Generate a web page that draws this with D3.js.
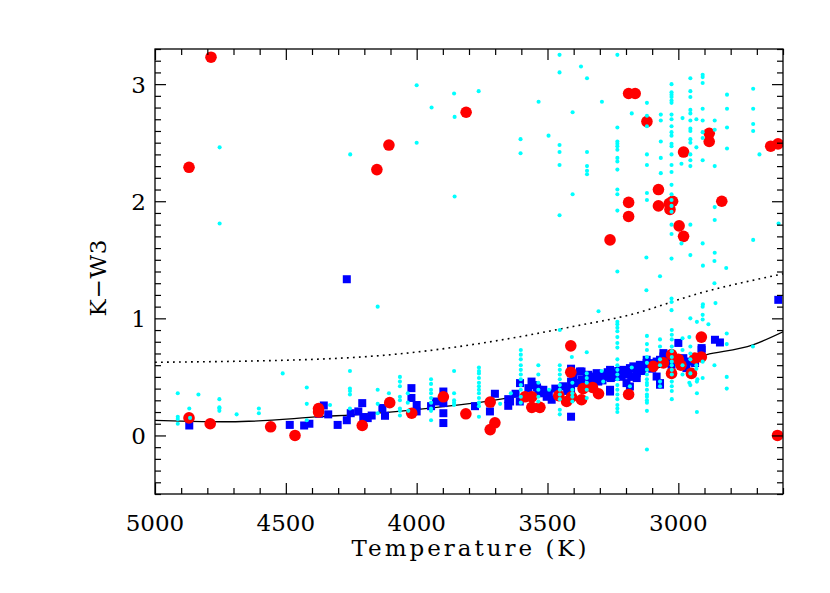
<!DOCTYPE html>
<html>
<head>
<meta charset="utf-8">
<script src="https://cdn.jsdelivr.net/npm/d3@7"></script>
<style>
  html, body { margin: 0; padding: 0; background: #ffffff; }
  svg { display: block; }
</style>
</head>
<body>
<div id="chart"></div>
<script>
// ---------------- DATA ----------------
const xDomain = [5000, 2600];
const yDomain = [-0.5, 3.3];
const xMajorTicks = [5000, 4500, 4000, 3500, 3000];
const yMajorTicks = [0, 1, 2, 3];
const xLabel = "Temperature (K)";
const yLabel = "K\u2212W3";

// solid model line
const modelT = [5000, 4866, 4713, 4369, 4102, 3899, 3720, 3408, 3172, 2894, 2715, 2600];
const modelY = [0.128, 0.121, 0.117, 0.160, 0.200, 0.247, 0.296, 0.418, 0.525, 0.689, 0.774, 0.885];
// dotted threshold line
const threshT = [5000, 4369, 4064, 3735, 3403, 3185, 2918, 2600];
const threshY = [0.625, 0.652, 0.697, 0.794, 0.930, 1.030, 1.215, 1.380];

// cyan small dots [T, K-W3]
const cyanPoints = [
 [4753,2.46],[4753,1.81],[4254,2.40],
 [4000,2.99],[4000,2.50],[3943,2.80],[3857,2.92],[3855,2.72],[3763,2.94],[3855,2.04],
 [3603,2.53],[3603,2.41],[3534,2.85],[3496,2.56],
 [3454,3.25],[3454,3.10],[3454,2.48],[3454,2.42],[3454,2.31],[3454,1.88],
 [3404,2.76],[3404,2.06],[3372,3.15],[3349,3.05],
 [3349,2.42],[3349,2.30],[3349,2.26],[3349,2.23],[3292,2.85],
 [3233,3.25],[3233,2.63],[3233,2.51],[3233,2.49],[3233,2.47],[3233,2.44],[3233,2.37],[3233,2.34],[3233,2.27],[3233,2.10],[3233,2.06],[3233,1.92],
 [3178,2.75],
 [3120,2.84],[3120,2.73],[3120,2.64],[3120,2.40],[3120,2.31],[3120,2.07],[3120,2.01],
 [3067,2.74],[3067,2.69],[3067,2.51],[3067,2.37],[3067,2.24],
 [3026,3.00],[3026,2.93],[3026,2.91],[3026,2.89],[3026,2.86],[3026,2.84],[3026,2.74],[3026,2.70],[3026,2.64],[3026,2.59],[3026,2.56],[3026,2.49],[3026,2.47],[3026,2.40],[3026,2.31],[3026,2.25],[3026,2.14],[3026,2.06],[3026,2.01],[3026,1.96],[3026,1.91],[3026,1.80],[3026,1.72],[3026,1.51],
 [2984,2.71],[2988,2.32],[2988,1.64],
 [2954,3.05],[2954,2.94],[2954,2.89],[2954,2.78],[2954,2.75],[2954,2.69],[2954,2.62],[2954,2.60],[2954,2.53],[2954,2.50],[2954,2.40],[2954,2.35],[2954,2.30],[2954,1.80],[2954,1.54],
 [2931,2.70],[2931,2.46],
 [2907,3.08],[2907,3.06],[2907,3.01],[2907,2.79],[2907,2.69],[2907,2.59],[2907,2.54],[2907,2.35],[2907,1.64],
 [2861,2.69],[2861,2.61],[2861,2.30],[2861,1.95],[2861,1.84],[2861,1.56],
 [2814,2.91],[2814,2.79],[2814,2.63],[2814,2.45],
 [2714,2.96],[2714,2.79],[2714,2.66],[2714,2.60],[2714,1.67],
 [2690,2.40],[2617,1.81],
 [3070,1.36],[3122,1.24],[3122,1.52],[2906,1.45],[2862,1.49],[2862,1.30],[2817,1.43],[3233,1.40],
 [3026,1.17],[3026,1.14],[3026,1.07],[2906,1.12],[2858,1.13],[3305,1.06],[2907,1.10],[2907,1.03],[2907,0.99],[2954,1.00],[2929,0.97],[2885,0.95],
 [3233,0.97],[3233,0.95],[3233,0.92],[3233,0.89],[3233,0.84],[3233,0.79],[3233,0.75],
 [3453,0.90],
 [3120,0.85],[3120,0.78],[3120,0.73],[3120,0.67],[3120,0.62],[3120,0.56],[3120,0.52],[3120,0.48],[3120,0.45],[3120,0.43],[3120,0.39],[3120,0.35],[3120,0.33],[3120,0.30],[3120,0.28],[3120,0.21],[3120,-0.12],
 [3070,0.82],[3070,0.76],[3070,0.65],[3070,0.60],[3070,0.46],[3070,0.42],
 [3025,0.90],[3025,0.86],[3025,0.82],[3025,0.76],[3025,0.72],[3025,0.67],[3025,0.63],[3025,0.60],[3025,0.56],[3025,0.52],[3025,0.46],[3025,0.42],[3025,0.38],[3025,0.31],
 [2984,0.83],[2984,0.73],[2984,0.60],[2984,0.52],
 [2954,0.76],[2954,0.70],[2954,0.65],[2954,0.53],[2954,0.43],
 [2929,0.46],[2929,0.36],[2929,0.20],[2931,0.60],[2931,0.57],[2927,0.48],
 [2907,0.63],[2907,0.49],[2958,0.84],[2958,0.45],
 [2862,0.60],
 [2815,0.87],[2815,0.78],[2815,0.50],[2815,0.40],
 [2715,0.76],
 [3233,0.65],[3233,0.60],[3233,0.56],[3233,0.52],[3233,0.48],[3233,0.43],[3233,0.39],[3233,0.35],[3233,0.31],[3233,0.26],[3233,0.23],[3233,0.20],
 [3178,0.58],[3185,0.42],[3293,0.55],[3287,0.46],[3350,0.71],[3407,0.67],
 [3453,0.60],[3453,0.56],[3453,0.52],[3453,0.48],[3453,0.43],[3453,0.39],[3453,0.35],[3453,0.31],[3453,0.22],[3453,0.18],
 [3405,0.45],[3405,0.39],[3405,0.36],[3405,0.33],[3405,0.29],
 [3350,0.53],[3350,0.49],[3350,0.45],[3350,0.39],[3350,0.32],
 [3494,0.39],
 [3602,0.73],[3602,0.69],[3602,0.65],[3602,0.60],[3602,0.56],[3602,0.52],[3602,0.48],[3602,0.43],[3602,0.39],[3602,0.33],[3602,0.28],
 [3535,0.60],[3535,0.52],[3535,0.45],[3535,0.39],[3535,0.33],[3535,0.29],
 [3640,0.36],[3681,0.27],
 [3762,0.58],[3762,0.55],[3762,0.53],[3762,0.49],[3762,0.45],[3762,0.42],[3762,0.39],[3762,0.36],[3762,0.32],[3762,0.28],[3762,0.25],[3762,0.16],
 [3857,0.55],[3857,0.36],[3857,0.30],[3857,0.28],[3857,0.26],
 [3945,0.48],[3945,0.44],[3945,0.39],[3945,0.36],[3945,0.32],[3945,0.28],[3945,0.23],[3945,0.21],[3945,0.13],
 [4064,0.50],[4064,0.46],[4064,0.42],[4064,0.33],[4064,0.30],[4064,0.23],[4064,0.21],[4064,0.17],
 [4034,0.36],[4034,0.28],[4032,0.21],[4106,0.36],
 [4149,0.39],[4149,0.27],[4149,0.19],[4149,1.10],
 [4255,0.55],[4255,0.40],[4255,0.38],[4255,0.35],[4255,0.23],
 [4331,0.26],
 [4420,0.41],[4420,0.27],[4420,0.13],
 [4512,0.53],[4603,0.23],[4603,0.19],[4688,0.18],
 [4754,0.31],[4754,0.24],[4754,0.23],[4754,0.21],
 [4834,0.35],[4869,0.23],[4866,0.15],
 [4913,0.36],[4913,0.16],[4913,0.14],[4913,0.10]
];

// blue squares [T, K-W3]
const bluePoints = [
 [4869,0.085],[4485,0.09],[4430,0.085],[4410,0.10],[4355,0.256],[4338,0.18],[4373,0.185],[4302,0.09],[4267,0.13],[4252,0.19],[4223,0.205],[4208,0.276],[4204,0.157],[4187,0.148],[4172,0.17],[4131,0.234],[4121,0.168],[4267,1.334],
 [4020,0.404],[4020,0.32],[4000,0.26],[4000,0.205],[3898,0.375],[3898,0.276],[3898,0.19],[3898,0.106],[3945,0.25],[3926,0.29],[3777,0.25],
 [3720,0.205],[3701,0.356],[3650,0.31],[3650,0.253],[3622,0.356],[3606,0.29],[3643,0.29],[3605,0.447],
 [3573,0.404],[3561,0.46],[3548,0.43],[3535,0.39],[3516,0.39],[3503,0.33],[3484,0.305],[3459,0.36],[3452,0.33],
 [3540,0.41],[3525,0.36],[3495,0.35],[3470,0.40],[3440,0.42],[3425,0.38],
 [3410,0.57],[3410,0.46],[3410,0.40],[3410,0.16],[3395,0.447],[3370,0.546],[3370,0.475],[3357,0.418],
 [3401,0.503],[3376,0.546],[3376,0.447],[3350,0.503],[3338,0.447],[3318,0.49],[3299,0.518],[3274,0.503],[3248,0.532],[3223,0.503],[3191,0.546],[3261,0.39],
 [3344,0.518],[3331,0.503],[3312,0.532],[3293,0.518],[3280,0.503],[3261,0.56],[3258,0.49],[3261,0.375],[3306,0.46],
 [3290,0.47],[3270,0.54],[3240,0.50],[3230,0.55],[3205,0.52],[3180,0.50],[3165,0.57],[3140,0.55],[3115,0.59],[3100,0.57],
 [3217,0.503],[3210,0.56],[3198,0.532],[3185,0.575],[3172,0.59],[3159,0.56],[3147,0.603],[3134,0.575],[3121,0.646],[3108,0.603],[3096,0.618],[3083,0.631],[3070,0.646],[3057,0.674],
 [3198,0.447],[3185,0.418],[3159,0.49],[3070,0.433],[3159,0.532],[3147,0.56],[3121,0.618],[3083,0.503],[3070,0.447],[3057,0.703],[3045,0.674],
 [3045,0.618],[3026,0.603],[3000,0.79],[2994,0.646],[2981,0.66],[2975,0.618],[2969,0.575],[2962,0.631],[2936,0.618],[2911,0.746],[2911,0.731],[2860,0.817],[2841,0.794],[2618,1.158]
];

// red circles [T, K-W3]
const redPoints = [
 [4786,3.23],[4870,2.29],[4106,2.48],[4152,2.27],[3811,2.76],[3190,2.92],[3165,2.92],[3120,2.68],[2980,2.42],[2882,2.58],[2882,2.51],[2647,2.47],[2619,2.49],
 [3076,2.10],[3190,1.99],[3190,1.87],[3076,1.96],[3035,1.98],[3032,1.93],[3022,2.00],[2997,1.79],[2980,1.70],[2834,2.00],[3261,1.67],
 [3411,0.765],[3411,0.54],[3898,0.33],[4019,0.19],[3812,0.185],[3719,0.285],[3701,0.108],[3719,0.05],
 [3586,0.33],[3560,0.33],[3560,0.24],[3529,0.24],[3457,0.34],[3427,0.29],[3408,0.33],[3370,0.305],[3364,0.40],[3328,0.41],[3305,0.356],[3190,0.35],
 [3096,0.59],[3057,0.62],[3026,0.69],[3026,0.53],[3000,0.65],[2990,0.60],[2950,0.53],[2937,0.66],[2912,0.84],[2912,0.67],[2621,0.0],
 [4870,0.15],[4789,0.10],[4558,0.074],[4465,0.0],[4375,0.23],[4375,0.20],[4208,0.085],[4103,0.28]
];

// ---------------- LAYOUT ----------------
const W = 830, H = 593;
const plot = { left: 155, right: 783, top: 49, bottom: 494 };
const FONT = "'DejaVu Serif', 'Liberation Serif', serif";

const svg = d3.select("#chart").append("svg")
  .attr("width", W).attr("height", H)
  .attr("viewBox", `0 0 ${W} ${H}`);
svg.append("rect").attr("width", W).attr("height", H).attr("fill", "#fff");

const x = d3.scaleLinear().domain(xDomain).range([plot.left, plot.right]);
const y = d3.scaleLinear().domain(yDomain).range([plot.bottom, plot.top]);

svg.append("defs").append("clipPath").attr("id", "clip")
  .append("rect").attr("x", plot.left).attr("y", plot.top)
  .attr("width", plot.right - plot.left).attr("height", plot.bottom - plot.top);

const g = svg.append("g").attr("clip-path", "url(#clip)");

// lines
const line = d3.line().x(d => x(d[0])).y(d => y(d[1])).curve(d3.curveMonotoneX);
g.append("path")
  .datum(threshT.map((t, i) => [t, threshY[i]]))
  .attr("d", line).attr("fill", "none").attr("stroke", "#000")
  .attr("stroke-width", 1.6).attr("stroke-dasharray", "1.8,4.2");
g.append("path")
  .datum(modelT.map((t, i) => [t, modelY[i]]))
  .attr("d", line).attr("fill", "none").attr("stroke", "#000")
  .attr("stroke-width", 1.3);

// blue squares
const sq = 8;
g.selectAll("rect.blue").data(bluePoints).join("rect")
  .attr("class", "blue")
  .attr("x", d => x(d[0]) - sq / 2).attr("y", d => y(d[1]) - sq / 2)
  .attr("width", sq).attr("height", sq).attr("fill", "#0000ff");

// red circles
g.selectAll("circle.red").data(redPoints).join("circle")
  .attr("class", "red")
  .attr("cx", d => x(d[0])).attr("cy", d => y(d[1])).attr("r", 5.8)
  .attr("fill", "#ff0000");

// cyan dots
g.selectAll("circle.cyan").data(cyanPoints).join("circle")
  .attr("class", "cyan")
  .attr("cx", d => x(d[0])).attr("cy", d => y(d[1])).attr("r", 2.05)
  .attr("fill", "#00ffff");

// ---------------- AXES ----------------
const axesG = svg.append("g");
const xMinor = d3.range(xDomain[1], xDomain[0] + 1, 100).filter(v => !xMajorTicks.includes(v));
const yMinor = d3.range(-5, 34).map(v => v / 10).filter(v => !yMajorTicks.includes(v));
const MAJ = 11, MIN = 6;

const axBottom = d3.axisBottom(x).tickValues(xMajorTicks).tickSize(-MAJ).tickFormat("");
const axTop = d3.axisTop(x).tickValues(xMajorTicks).tickSize(-MAJ).tickFormat("");
const axLeft = d3.axisLeft(y).tickValues(yMajorTicks).tickSize(-MAJ).tickFormat("");
const axRight = d3.axisRight(y).tickValues(yMajorTicks).tickSize(-MAJ).tickFormat("");
const axBottomMin = d3.axisBottom(x).tickValues(xMinor).tickSize(-MIN).tickFormat("");
const axTopMin = d3.axisTop(x).tickValues(xMinor).tickSize(-MIN).tickFormat("");
const axLeftMin = d3.axisLeft(y).tickValues(yMinor).tickSize(-MIN).tickFormat("");
const axRightMin = d3.axisRight(y).tickValues(yMinor).tickSize(-MIN).tickFormat("");

function place(axis, tx, ty) {
  const a = axesG.append("g").attr("transform", `translate(${tx},${ty})`).call(axis);
  a.select(".domain").remove();
  a.selectAll(".tick line").attr("stroke", "#000").attr("stroke-width", 1.2);
  return a;
}
place(axBottom, 0, plot.bottom); place(axBottomMin, 0, plot.bottom);
place(axTop, 0, plot.top); place(axTopMin, 0, plot.top);
place(axLeft, plot.left, 0); place(axLeftMin, plot.left, 0);
place(axRight, plot.right, 0); place(axRightMin, plot.right, 0);

// frame
axesG.append("rect")
  .attr("x", plot.left).attr("y", plot.top)
  .attr("width", plot.right - plot.left).attr("height", plot.bottom - plot.top)
  .attr("fill", "none").attr("stroke", "#000").attr("stroke-width", 1.3);

// tick labels
const labels = svg.append("g").attr("font-family", FONT).attr("font-size", 23).attr("fill", "#000");
labels.selectAll("text.xl").data(xMajorTicks).join("text")
  .attr("class", "xl")
  .attr("x", d => x(d)).attr("y", 531).attr("text-anchor", "middle")
  .text(d => d3.format("d")(d));
labels.selectAll("text.yl").data(yMajorTicks).join("text")
  .attr("class", "yl")
  .attr("x", plot.left - 9).attr("y", d => y(d) + 8.5).attr("text-anchor", "end")
  .text(d => d3.format("d")(d));

// axis titles
svg.append("text")
  .attr("x", 469).attr("y", 556).attr("text-anchor", "middle")
  .attr("font-family", FONT).attr("font-size", 23)
  .attr("textLength", 235).attr("lengthAdjust", "spacing")
  .text(xLabel);
svg.append("text")
  .attr("transform", "translate(106,278) rotate(-90)")
  .attr("text-anchor", "middle")
  .attr("font-family", FONT).attr("font-size", 23)
  .attr("textLength", 77).attr("lengthAdjust", "spacing")
  .text(yLabel);
</script>
</body>
</html>
